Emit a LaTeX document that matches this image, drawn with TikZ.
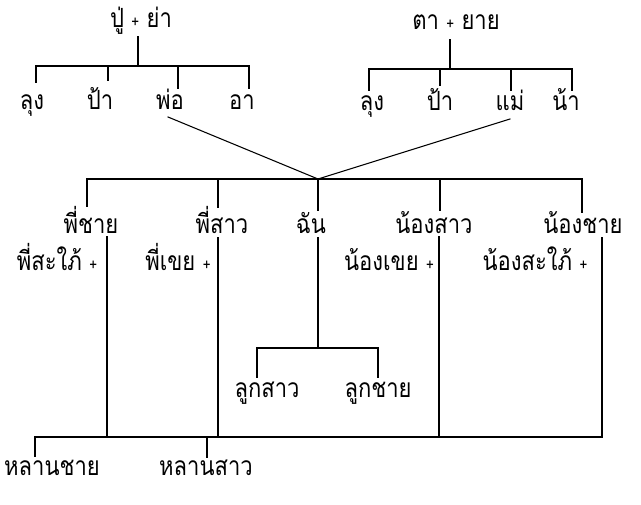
\documentclass[tikz,border=0pt]{standalone}
\usepackage{fontspec}
\newfontfamily\thaifont[Script=Thai]{Loma}
\newcommand\tplus{{\fontsize{10}{10}\selectfont +}}
\newcommand\tall[1]{\scalebox{1}[1.2]{#1}}
\begin{document}
\begin{tikzpicture}[x=0.75pt,y=-0.75pt,
  lbl/.style={anchor=base,inner sep=0pt,font=\thaifont\fontsize{16.5}{20}\selectfont},
  ln/.style={line width=0.8pt,line cap=rect}]
\useasboundingbox[fill=white] (0,0) rectangle (641,505);
% ---- text ----
\node[lbl] (gp1) at (141,28) {\tall{ปู่ \tplus{} ย่า}};
\node[lbl] (gp2) at (456,30) {\tall{ตา \tplus{} ยาย}};
\node[lbl] (u1) at (32,110) {\tall{ลุง}};
\node[lbl] (a1) at (100,110) {\tall{ป้า}};
\node[lbl] (fa) at (170,110) {\tall{พ่อ}};
\node[lbl] (ua) at (242,110) {\tall{อา}};
\node[lbl] (u2) at (372,111) {\tall{ลุง}};
\node[lbl] (a2) at (440,111) {\tall{ป้า}};
\node[lbl] (mo) at (510,111) {\tall{แม่}};
\node[lbl] (na) at (566,111) {\tall{น้า}};
\node[lbl] (eb) at (91,234) {\tall{พี่ชาย}};
\node[lbl] (es) at (222,234) {\tall{พี่สาว}};
\node[lbl] (me) at (311,234) {\tall{ฉัน}};
\node[lbl] (ys) at (434,234) {\tall{น้องสาว}};
\node[lbl] (yb) at (583,234) {\tall{น้องชาย}};
\node[lbl] (ebw) at (57,271) {\tall{พี่สะใภ้ \tplus}};
\node[lbl] (esh) at (178,271) {\tall{พี่เขย \tplus}};
\node[lbl] (ysh) at (389,271) {\tall{น้องเขย \tplus}};
\node[lbl] (ybw) at (535,271) {\tall{น้องสะใภ้ \tplus}};
\node[lbl] (dau) at (267,397) {\tall{ลูกสาว}};
\node[lbl] (son) at (378,397) {\tall{ลูกชาย}};
\node[lbl] (nep) at (52,475) {\tall{หลานชาย}};
\node[lbl] (nie) at (206,475) {\tall{หลานสาว}};
% ---- connector points ----
\coordinate (gp1b) at (138,37);  \coordinate (bus1) at (138,66);
\coordinate (u1t) at (36,82);    \coordinate (a1t) at (108,80);
\coordinate (fat) at (178,88);   \coordinate (uat) at (249,88);
\coordinate (gp2b) at (450,40);  \coordinate (bus2) at (450,69);
\coordinate (u2t) at (369,90);   \coordinate (a2t) at (440,85);
\coordinate (mot) at (511,90);   \coordinate (nat) at (572,90);
\coordinate (fab) at (168,117);  \coordinate (mob) at (510,119);
\coordinate (hub) at (318,179);
\coordinate (ebt) at (87,206);   \coordinate (est) at (218,207);
\coordinate (met) at (318,210);  \coordinate (yst) at (440,210);
\coordinate (ybt) at (582,212);
\coordinate (ebl) at (107,237);  \coordinate (esl) at (218,238);
\coordinate (mel) at (318,238);  \coordinate (ysl) at (439,237);
\coordinate (ybl) at (602,238);
\coordinate (kid) at (318,348);
\coordinate (daut) at (257,377); \coordinate (sont) at (378,377);
\coordinate (nept) at (35,456);  \coordinate (niet) at (207,457);
\coordinate (bot) at (318,437);
% ---- connectors ----
\draw[ln] (gp1b) -- (bus1);
\draw[ln] (u1t) |- (bus1) -| (uat);
\draw[ln] (a1t) -- (a1t |- bus1);
\draw[ln] (fat) -- (fat |- bus1);
\draw[ln] (gp2b) -- (bus2);
\draw[ln] (u2t) |- (bus2) -| (nat);
\draw[ln] (a2t) -- (a2t |- bus2);
\draw[ln] (mot) -- (mot |- bus2);
\draw[ln] (fab) -- (hub) -- (mob);
\draw[ln] (ebt) |- (hub) -| (ybt);
\draw[ln] (est) -- (est |- hub);
\draw[ln] (met) -- (hub);
\draw[ln] (yst) -- (yst |- hub);
\draw[ln] (mel) -- (kid);
\draw[ln] (daut) |- (kid) -| (sont);
\draw[ln] (nept) |- (bot) -| (ybl);
\draw[ln] (niet) -- (niet |- bot);
\draw[ln] (ebl) -- (ebl |- bot);
\draw[ln] (esl) -- (esl |- bot);
\draw[ln] (ysl) -- (ysl |- bot);
\end{tikzpicture}
\end{document}
